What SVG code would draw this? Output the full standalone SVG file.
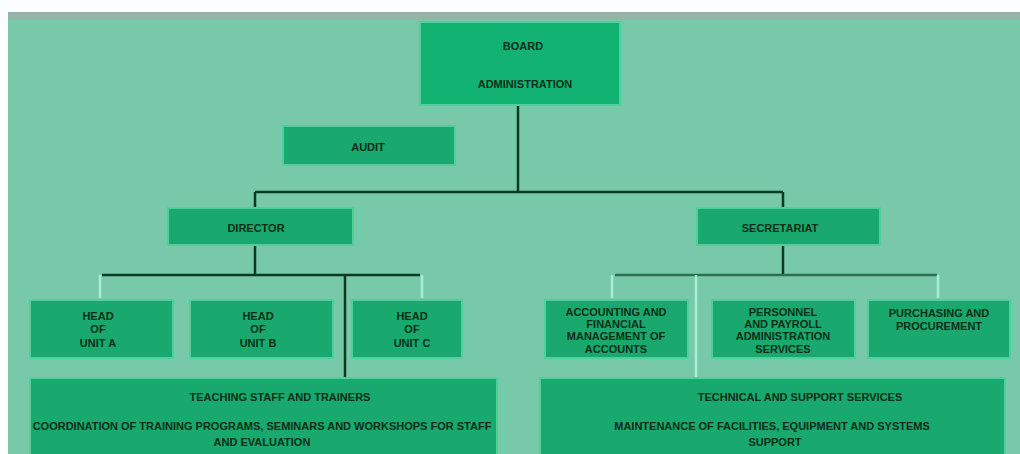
<svg xmlns="http://www.w3.org/2000/svg" width="1020" height="454" viewBox="0 0 1020 454">
<style>
.node rect{fill:#19a86d;stroke:#4fcf9c;stroke-width:2}
.top rect{fill:#12b272}
text{font-family:"Liberation Sans",Arial,sans-serif;font-weight:bold;font-size:11px;fill:#0a2e18;text-anchor:middle}
.dark{stroke:#0b3a22;stroke-width:2.5;fill:none}
.mid{stroke:#2f6e50;stroke-width:2.5;fill:none}
.light{stroke:#a6efd0;stroke-width:2.5;fill:none}
</style>
<rect x="0" y="0" width="1020" height="454" fill="#fafefe"/>
<rect x="8" y="12" width="1012" height="442" fill="#78c9aa"/>
<rect x="8" y="12" width="1012" height="8" fill="#95b3a6"/>
<g id="connectors">
<path class="dark" d="M518 105V192M255 192H783M255 192V208M783 192V208"/>
<path class="dark" d="M255 245V275M102 275H420M345 275V378"/>
<path class="light" d="M100 275V298M422 275V298"/>
<path class="dark" d="M783 245V275"/>
<path class="mid" d="M615 275H937"/>
<path class="light" d="M612 275V298M696 275V378M938 275V298"/>
</g>
<g id="board" class="node top"><rect x="420" y="22" width="200" height="83"/><text x="523" y="50" font-size="13">BOARD</text><text x="525" y="88" font-size="12">ADMINISTRATION</text></g>
<g id="audit" class="node"><rect x="283" y="126" width="172" height="39"/><text x="368" y="151" font-size="12">AUDIT</text></g>
<g id="director" class="node"><rect x="168" y="208" width="185" height="37"/><text x="256" y="232" font-size="12">DIRECTOR</text></g>
<g id="secretariat" class="node"><rect x="697" y="208" width="183" height="37"/><text x="780" y="232" font-size="12">SECRETARIAT</text></g>
<g id="unitA" class="node"><rect x="30" y="300" width="143" height="58"/><text x="98" y="320">HEAD</text><text x="98" y="333">OF</text><text x="98" y="347">UNIT A</text></g>
<g id="unitB" class="node"><rect x="190" y="300" width="143" height="58"/><text x="258" y="320">HEAD</text><text x="258" y="333">OF</text><text x="258" y="347">UNIT B</text></g>
<g id="unitC" class="node"><rect x="352" y="300" width="110" height="58"/><text x="412" y="320">HEAD</text><text x="412" y="333">OF</text><text x="412" y="347">UNIT C</text></g>
<g id="accounting" class="node"><rect x="545" y="300" width="143" height="58"/><text x="616" y="316" font-size="9.5">ACCOUNTING AND</text><text x="616" y="328" font-size="9.5">FINANCIAL</text><text x="616" y="340" font-size="9.5">MANAGEMENT OF</text><text x="616" y="353" font-size="9.5">ACCOUNTS</text></g>
<g id="personnel" class="node"><rect x="712" y="300" width="143" height="58"/><text x="783" y="316" font-size="9.5">PERSONNEL</text><text x="783" y="328" font-size="9.5">AND PAYROLL</text><text x="783" y="340" font-size="9.5">ADMINISTRATION</text><text x="783" y="353" font-size="9.5">SERVICES</text></g>
<g id="purchasing" class="node"><rect x="868" y="300" width="142" height="58"/><text x="939" y="317" font-size="9.5">PURCHASING AND</text><text x="939" y="330" font-size="9.5">PROCUREMENT</text></g>
<g id="teaching" class="node"><rect x="30" y="378" width="467" height="80"/><text x="280" y="401">TEACHING STAFF AND TRAINERS</text><text x="262" y="430" font-size="10">COORDINATION OF TRAINING PROGRAMS, SEMINARS AND WORKSHOPS FOR STAFF</text><text x="262" y="446">AND EVALUATION</text></g>
<g id="technical" class="node"><rect x="540" y="378" width="465" height="80"/><text x="800" y="401">TECHNICAL AND SUPPORT SERVICES</text><text x="772" y="430" font-size="10">MAINTENANCE OF FACILITIES, EQUIPMENT AND SYSTEMS</text><text x="775" y="446">SUPPORT</text></g>
</svg>
